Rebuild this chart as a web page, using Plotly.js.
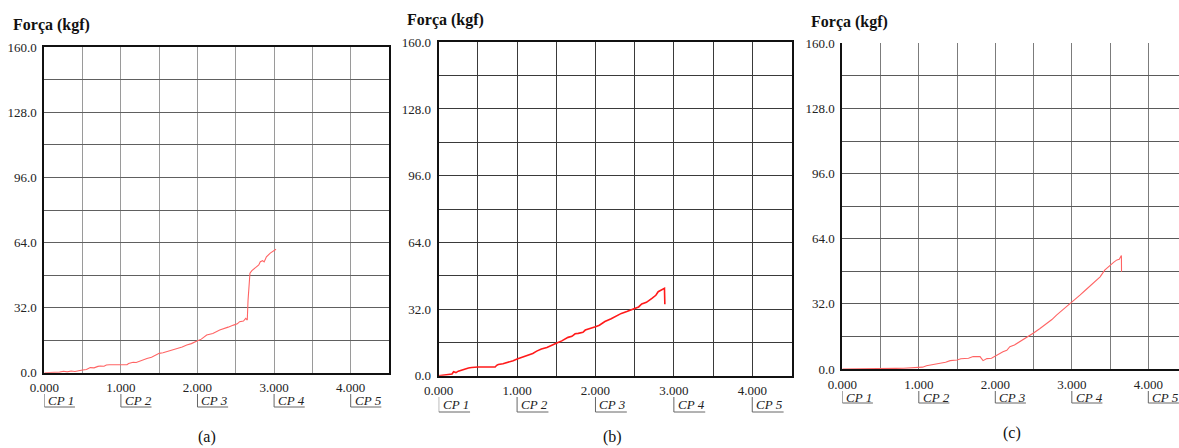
<!DOCTYPE html>
<html>
<head>
<meta charset="utf-8">
<script src="https://cdn.plot.ly/plotly-3.0.1.min.js"></script>
<style>
html,body{margin:0;padding:0;background:#fff;}
#chart{width:1179px;height:448px;}
</style>
</head>
<body>
<div id="chart"></div>
<script>
// ---- data ----
var yTickVals = [0, 32, 64, 96, 128, 160];
var yTickText = ["0.0", "32.0", "64.0", "96.0", "128.0", "160.0"];
var yGridVals = [0, 16, 32, 48, 64, 80, 96, 112, 128, 144, 160];
var xTickVals = [0, 1, 2, 3, 4];
var xTickText = ["0.000", "1.000", "2.000", "3.000", "4.000"];
var xGridVals = [0, 0.5, 1, 1.5, 2, 2.5, 3, 3.5, 4, 4.5];
var cpLabels = ["CP 1", "CP 2", "CP 3", "CP 4", "CP 5"];
var panelLabels = ["(a)", "(b)", "(c)"];
var axisTitle = "Força (kgf)";

// panel (a)
var dispA = [0, 0.1, 0.2, 0.25, 0.3, 0.35, 0.4, 0.5, 0.55, 0.6, 0.65, 0.7, 0.73, 0.78, 0.81, 0.85, 0.9, 1.0, 1.08, 1.1, 1.16, 1.2, 1.25, 1.3, 1.34, 1.4, 1.45, 1.5, 1.55, 1.6, 1.68, 1.75, 1.8, 1.86, 1.92, 2.0, 2.05, 2.12, 2.2, 2.29, 2.35, 2.4, 2.47, 2.52, 2.55, 2.6, 2.63, 2.65, 2.66, 2.67, 2.685, 2.71, 2.75, 2.8, 2.82, 2.85, 2.87, 2.9, 2.95, 3.0, 3.025];
var forceA = [0, 0.1, 0.3, 0.7, 0.4, 0.8, 0.6, 1.3, 1.6, 2.5, 2.4, 3.1, 3.3, 3.2, 3.8, 3.9, 3.9, 3.9, 3.9, 4.5, 5.1, 5.0, 5.8, 6.3, 7.0, 7.6, 8.6, 9.5, 9.8, 10.3, 11.1, 12.0, 12.6, 13.6, 14.3, 15.7, 16.5, 18.5, 19.3, 21.0, 21.6, 22.4, 23.4, 24.0, 25.1, 25.4, 26.7, 25.9, 35.7, 44.0, 48.9, 50.2, 51.3, 53.0, 54.6, 55.1, 54.5, 57.0, 58.8, 59.9, 60.7];

// panel (b)
var dispB = [0, 0.05, 0.1, 0.15, 0.17, 0.19, 0.22, 0.25, 0.29, 0.33, 0.38, 0.42, 0.46, 0.5, 0.6, 0.72, 0.74, 0.76, 0.82, 0.89, 0.95, 1.0, 1.07, 1.14, 1.2, 1.25, 1.31, 1.38, 1.44, 1.5, 1.57, 1.65, 1.7, 1.74, 1.78, 1.84, 1.87, 1.93, 2.0, 2.05, 2.12, 2.2, 2.27, 2.33, 2.4, 2.46, 2.5, 2.55, 2.59, 2.65, 2.72, 2.77, 2.8, 2.84, 2.87, 2.88, 2.885];
var forceB = [0, 0.2, 0.3, 0.6, 0.8, 1.9, 1.5, 2.2, 2.7, 3.0, 3.7, 3.9, 4.2, 4.2, 4.2, 4.2, 5.0, 5.4, 5.7, 6.4, 7.2, 8.0, 8.9, 10.1, 10.7, 11.8, 12.8, 13.5, 14.7, 15.6, 16.7, 18.4, 18.9, 20.1, 20.3, 20.8, 21.9, 22.5, 23.5, 24.2, 26.0, 27.3, 28.7, 29.9, 30.8, 31.7, 32.3, 33.0, 34.4, 35.2, 37.1, 38.6, 40.3, 41.3, 41.8, 41.9, 34.3];

// panel (c)
var dispC = [0, 0.3, 0.62, 0.7, 0.8, 0.9, 1.0, 1.05, 1.1, 1.2, 1.28, 1.35, 1.41, 1.5, 1.55, 1.6, 1.65, 1.71, 1.8, 1.84, 1.89, 1.95, 2.0, 2.05, 2.1, 2.15, 2.19, 2.25, 2.32, 2.4, 2.5, 2.58, 2.67, 2.74, 2.8, 2.9, 3.0, 3.05, 3.11, 3.18, 3.24, 3.3, 3.37, 3.43, 3.5, 3.55, 3.59, 3.62, 3.648, 3.65];
var forceC = [0, 0, 0.2, 0.3, 0.4, 0.5, 0.8, 0.9, 1.6, 2.2, 2.8, 3.3, 4.1, 4.4, 5.0, 5.2, 5.3, 6.1, 6.1, 4.1, 5.1, 5.3, 6.4, 7.1, 8.5, 9.2, 11.0, 11.8, 13.4, 15.3, 17.7, 19.8, 22.4, 24.3, 26.5, 29.6, 32.9, 34.4, 36.4, 38.8, 40.8, 42.5, 45.3, 48.6, 51.1, 52.5, 53.6, 53.9, 55.8, 47.8];

// ---- layout helpers (pixel geometry) ----
var W = 1179, H = 448;
function px(x){ return x / W; }
function py(y){ return (H - y) / H; }
var FONT = "Liberation Serif";

function fullTicks(gridVals, labVals, labText){
  return gridVals.map(function(g){
    var k = labVals.indexOf(g);
    return k >= 0 ? labText[k] : "";
  });
}

var panels = [
  {x: dispA, y: forceA, left: 44.3, right: 388.6, top: 47.3, bottom: 372.7, xmax: 4.495,
   lineColor: "#ff6464", lineWidth: 1.1, gridX: "#9a9a9a", gridY: "#606060", mirror: true,
   titleX: 11, titleY: 25, capX: 207, capY: 437, cpTop: 394, cpBot: 407, cpText: 400},
  {x: dispB, y: forceB, left: 438.7, right: 792, top: 42.3, bottom: 375.7, xmax: 4.507,
   lineColor: "#ff1a1a", lineWidth: 1.6, gridX: "#3a3a3a", gridY: "#3a3a3a", mirror: true,
   titleX: 405, titleY: 20, capX: 612, capY: 437, cpTop: 397, cpBot: 412, cpText: 404},
  {x: dispC, y: forceC, left: 842.3, right: 1179, top: 43.3, bottom: 369, xmax: 4.401,
   lineColor: "#ff6464", lineWidth: 1.1, gridX: "#7c7c7c", gridY: "#5a5a5a", mirror: false,
   titleX: 809, titleY: 22, capX: 1012, capY: 433, cpTop: 391, cpBot: 403, cpText: 397}
];

var data = [];
var layout = {
  width: W, height: H,
  margin: {l: 0, r: 0, t: 0, b: 0, pad: 0},
  paper_bgcolor: "#ffffff",
  plot_bgcolor: "#ffffff",
  showlegend: false,
  hovermode: false,
  annotations: [],
  shapes: []
};

panels.forEach(function(p, i){
  var n = i === 0 ? "" : String(i + 1);
  var xa = "x" + n, ya = "y" + n;
  data.push({
    type: "scatter", mode: "lines",
    x: p.x, y: p.y,
    xaxis: xa, yaxis: ya,
    line: {color: p.lineColor, width: p.lineWidth},
    hoverinfo: "skip"
  });
  layout["xaxis" + n] = {
    domain: [px(p.left), px(p.right)],
    anchor: ya,
    range: [0, p.xmax],
    tickmode: "array", tickvals: xGridVals, ticktext: fullTicks(xGridVals, xTickVals, xTickText),
    ticks: "", showgrid: true, gridcolor: p.gridX, gridwidth: 1,
    showline: true, linecolor: "#111", linewidth: 2, mirror: p.mirror,
    zeroline: false, fixedrange: true,
    tickfont: {family: FONT, size: 13, color: "#222"},
    ticklabelstandoff: 2
  };
  layout["yaxis" + n] = {
    domain: [py(p.bottom), py(p.top)],
    anchor: xa,
    range: [0, 160],
    tickmode: "array", tickvals: yGridVals, ticktext: fullTicks(yGridVals, yTickVals, yTickText),
    ticks: "", showgrid: true, gridcolor: p.gridY, gridwidth: 1,
    showline: true, linecolor: "#111", linewidth: 2, mirror: p.mirror,
    zeroline: false, fixedrange: true,
    tickfont: {family: FONT, size: 13, color: "#222"},
    ticklabelstandoff: 3
  };
  layout.annotations.push({
    xref: "paper", yref: "paper", x: px(p.titleX), y: py(p.titleY),
    xanchor: "left", yanchor: "middle", showarrow: false,
    text: "<b>" + axisTitle + "</b>",
    font: {family: FONT, size: 16, color: "#111"}
  });
  layout.annotations.push({
    xref: "paper", yref: "paper", x: px(p.capX), y: py(p.capY),
    xanchor: "center", yanchor: "middle", showarrow: false,
    text: panelLabels[i],
    font: {family: FONT, size: 16, color: "#111"}
  });
  xTickVals.forEach(function(v, k){
    if (v > p.xmax) return;
    layout.annotations.push({
      xref: xa, yref: "paper", x: v, y: py(p.cpText),
      xanchor: "left", yanchor: "middle", xshift: 2, showarrow: false,
      text: "<i>" + cpLabels[k] + "</i>",
      font: {family: FONT, size: 13, color: "#222"}
    });
    layout.shapes.push({
      type: "line", xref: xa, yref: "paper",
      x0: v, x1: v, y0: py(p.cpTop), y1: py(p.cpBot),
      line: {color: "#666", width: 1}
    });
    layout.shapes.push({
      type: "line", xref: xa, yref: "paper",
      x0: v, x1: Math.min(v + 0.4, p.xmax), y0: py(p.cpBot), y1: py(p.cpBot),
      line: {color: "#666", width: 1}
    });
  });
});

Plotly.newPlot("chart", data, layout, {displayModeBar: false});
</script>
</body>
</html>
